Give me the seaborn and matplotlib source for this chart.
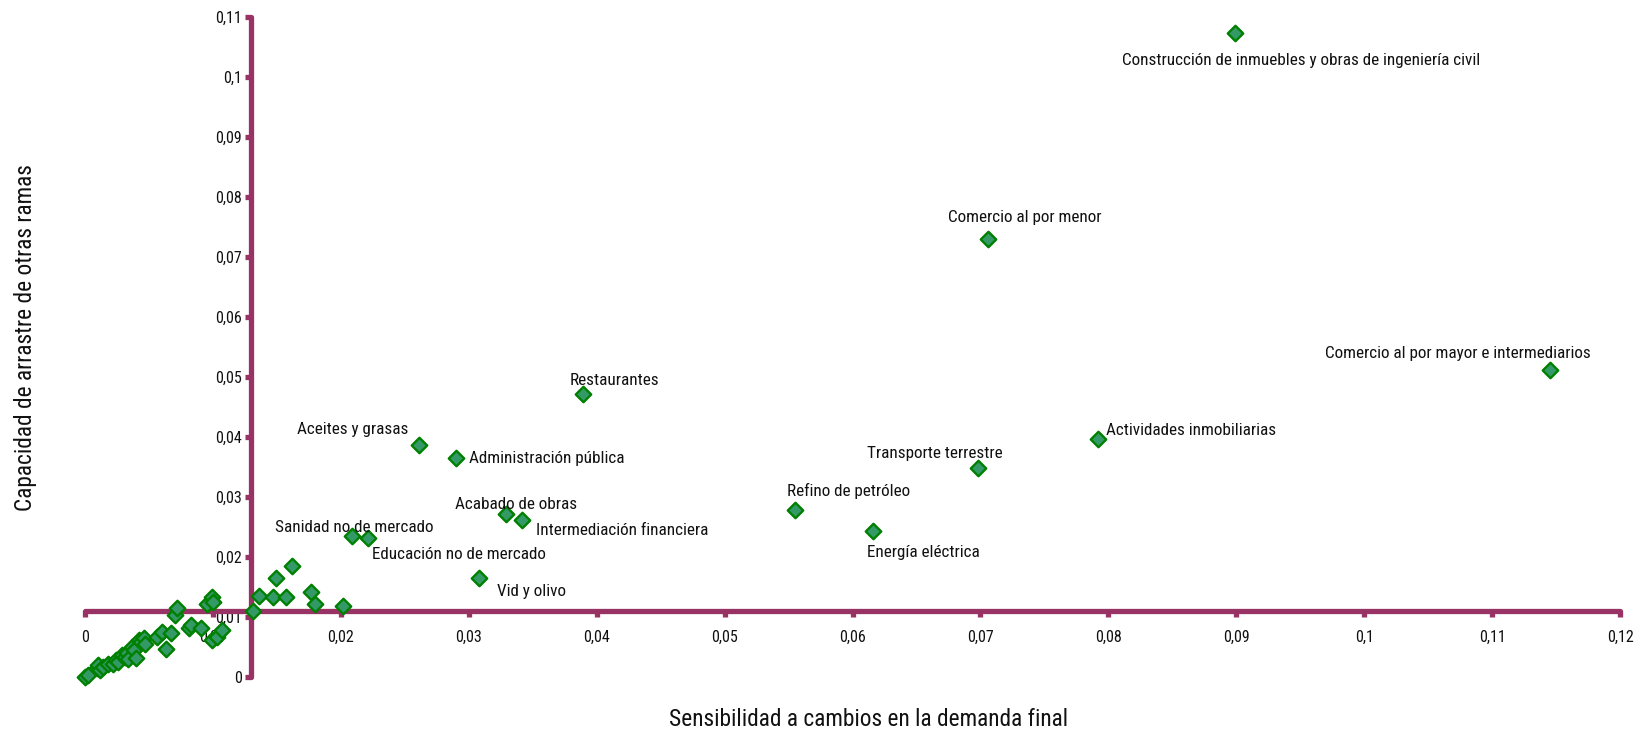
import numpy as np
import pandas as pd
import seaborn as sns
import matplotlib.pyplot as plt
from matplotlib.ticker import FuncFormatter

# ---------------- data ----------------
labels = [
    "Construcción de inmuebles y obras de ingeniería civil",
    "Comercio al por menor",
    "Comercio al por mayor e intermediarios",
    "Actividades inmobiliarias",
    "Transporte terrestre",
    "Refino de petróleo",
    "Energía eléctrica",
    "Restaurantes",
    "Aceites y grasas",
    "Administración pública",
    "Acabado de obras",
    "Intermediación financiera",
    "Sanidad no de mercado",
    "Educación no de mercado",
    "Vid y olivo",
]
labeled_x = [0.0899, 0.0706, 0.1145, 0.0792, 0.0698, 0.0555, 0.0616, 0.0389,
             0.0261, 0.0290, 0.0329, 0.0342, 0.0209, 0.0221, 0.0308]
labeled_y = [0.1072, 0.0729, 0.0512, 0.0397, 0.0348, 0.0278, 0.0243, 0.0471,
             0.0386, 0.0365, 0.0271, 0.0261, 0.0235, 0.0231, 0.0164]

other_x = [0.0131, 0.0136, 0.0147, 0.0149, 0.0157, 0.0162, 0.0177, 0.0180, 0.0202,
           0.0000, 0.0002, 0.0009, 0.0010, 0.0012, 0.0014, 0.0018, 0.0022, 0.0024,
           0.0026, 0.0029, 0.0031, 0.0033, 0.0034, 0.0037, 0.0038, 0.0040, 0.0042,
           0.0044, 0.0046, 0.0047, 0.0056, 0.0060, 0.0063, 0.0067, 0.0070, 0.0072,
           0.0081, 0.0083, 0.0091, 0.0095, 0.0099, 0.0100, 0.0099, 0.0103, 0.0107]
other_y = [0.0110, 0.0135, 0.0133, 0.0164, 0.0133, 0.0185, 0.0141, 0.0121, 0.0118,
           0.0000, 0.0003, 0.0014, 0.0020, 0.0012, 0.0017, 0.0022, 0.0021, 0.0028,
           0.0025, 0.0036, 0.0033, 0.0039, 0.0029, 0.0050, 0.0044, 0.0031, 0.0061,
           0.0058, 0.0064, 0.0055, 0.0067, 0.0075, 0.0047, 0.0073, 0.0103, 0.0114,
           0.0081, 0.0086, 0.0082, 0.0122, 0.0133, 0.0125, 0.0061, 0.0067, 0.0078]

x_ticks = [0.00, 0.01, 0.02, 0.03, 0.04, 0.05, 0.06, 0.07, 0.08, 0.09, 0.10, 0.11, 0.12]
y_ticks = [0.00, 0.01, 0.02, 0.03, 0.04, 0.05, 0.06, 0.07, 0.08, 0.09, 0.10, 0.11]
axis_cross_x = 0.013
axis_cross_y = 0.011

xlabel = "Sensibilidad a cambios en la demanda final"
ylabel = "Capacidad de arrastre de otras ramas"

# label offsets in pixels (dx right, dy down), ha
label_layout = {
    "Construcción de inmuebles y obras de ingeniería civil": (-113, 27, "left"),
    "Comercio al por menor": (-40, -22, "left"),
    "Comercio al por mayor e intermediarios": (-225, -16, "left"),
    "Actividades inmobiliarias": (8, -8, "left"),
    "Transporte terrestre": (-111, -14, "left"),
    "Refino de petróleo": (-8, -19, "left"),
    "Energía eléctrica": (-6, 22, "left"),
    "Restaurantes": (-13, -14, "left"),
    "Aceites y grasas": (-10, -16, "right"),
    "Administración pública": (13, 1, "left"),
    "Acabado de obras": (-51, -10, "left"),
    "Intermediación financiera": (14, 10, "left"),
    "Sanidad no de mercado": (-77, -8, "left"),
    "Educación no de mercado": (4, 16, "left"),
    "Vid y olivo": (18, 13, "left"),
}

df = pd.DataFrame({
    "x": labeled_x + other_x,
    "y": labeled_y + other_y,
})

# ---------------- plot ----------------
sns.set_theme(style="white")
plt.rcParams["font.family"] = ["Roboto Condensed", "Roboto", "DejaVu Sans"]

AXIS_COLOR = "#993366"
FILL = "#339966"
EDGE = "#008000"
TEXT = "#111111"
W, H = 1646, 734

fig = plt.figure(figsize=(W / 100, H / 100), dpi=100)
fig.patch.set_facecolor("white")
ax = fig.add_axes([85 / W, (H - 676.7) / H, 1535 / W, 660 / H])
ax.set_facecolor("white")

sns.scatterplot(data=df, x="x", y="y", marker="D", s=62, color=FILL,
                edgecolor=EDGE, linewidth=1.7, ax=ax, clip_on=False,
                zorder=4, legend=False)

ax.set_xlim(x_ticks[0], x_ticks[-1])
ax.set_ylim(y_ticks[0], y_ticks[-1])
ax.set_xticks(x_ticks)
ax.set_yticks(y_ticks)

def comma_fmt(v, pos=None):
    s = f"{round(v, 2):.2f}".rstrip("0").rstrip(".")
    return s.replace(".", ",")

ax.xaxis.set_major_formatter(FuncFormatter(comma_fmt))
ax.yaxis.set_major_formatter(FuncFormatter(comma_fmt))

for s in ["top", "right"]:
    ax.spines[s].set_visible(False)
ax.spines["left"].set_position(("data", axis_cross_x))
ax.spines["bottom"].set_position(("data", axis_cross_y))
for s in ["left", "bottom"]:
    ax.spines[s].set_color(AXIS_COLOR)
    ax.spines[s].set_linewidth(3.8)
    ax.spines[s].set_capstyle("round")
    ax.spines[s].set_zorder(2.5)

ax.tick_params(axis="both", which="major", direction="out", length=4,
               width=3.8, color=AXIS_COLOR, labelsize=11.5, labelcolor=TEXT,
               bottom=True, left=True)
ax.tick_params(axis="x", pad=10)
ax.tick_params(axis="y", pad=3)
ax.grid(False)

for lab, lx, ly in zip(labels, labeled_x, labeled_y):
    dx, dy, ha = label_layout[lab]
    ax.annotate(lab, (lx, ly), xytext=(dx, -dy), textcoords="offset pixels",
                ha=ha, va="center", fontsize=12.3, color=TEXT,
                annotation_clip=False, zorder=5)

ax.set_xlabel(xlabel, fontsize=16.8, color=TEXT)
ax.set_ylabel(ylabel, fontsize=16.8, color=TEXT)
ax.xaxis.set_label_coords((869 - 85) / 1535, (676.7 - 720) / 660)
ax.yaxis.set_label_coords((26 - 85) / 1535, (676.7 - 338) / 660)
ax.xaxis.label.set_va("center")
ax.yaxis.label.set_va("center")

fig.savefig("out.png", dpi=100, facecolor="white")
